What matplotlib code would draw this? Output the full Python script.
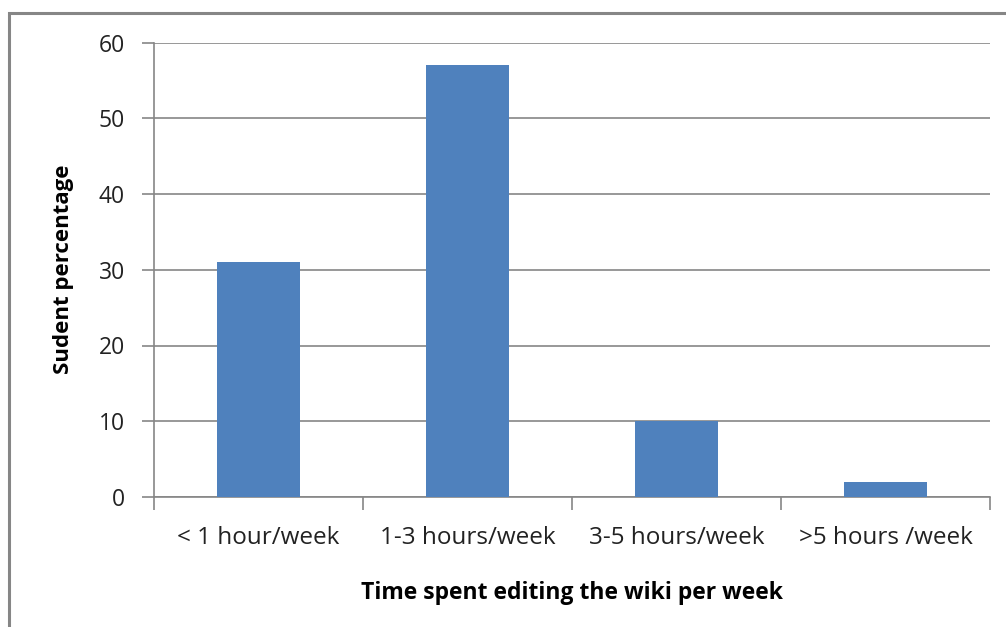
import matplotlib
matplotlib.use("Agg")
import matplotlib.pyplot as plt
from matplotlib.patches import Rectangle

categories = ["< 1 hour/week", "1-3 hours/week", "3-5 hours/week", ">5 hours /week"]
values = [31, 57, 10, 2]
yticks = [0, 10, 20, 30, 40, 50, 60]

W, H = 1006, 627
fig = plt.figure(figsize=(W / 100, H / 100), dpi=100)
plt.rcParams['font.family'] = ['Open Sans', 'DejaVu Sans']

# outer chart border
fig.patches.append(Rectangle((9 / W, -0.1), 1.2, 1 - 13 / H + 0.1, transform=fig.transFigure,
                             fill=False, edgecolor="#868686", linewidth=2.2))

left, right, top, bottom = 154, 990, 42.5, 497
ax = fig.add_axes([left / W, 1 - bottom / H, (right - left) / W, (bottom - top) / H])

x = list(range(len(categories)))
ax.bar(x, values, width=0.4, color="#4F81BD", zorder=3)
ax.set_xlim(-0.5, len(categories) - 0.5)
ax.set_ylim(0, 60)
ax.set_yticks(yticks)
ax.set_yticklabels([str(v) for v in yticks], fontsize=16.5, color="#222222")
ax.yaxis.grid(True, color="#868686", linewidth=1.2, zorder=0)

ax.set_xticks([i - 0.5 for i in range(len(categories) + 1)])
ax.set_xticklabels([])
ax.set_xticks(x, minor=True)
ax.set_xticklabels(categories, minor=True, fontsize=17.5, color="#222222")
ax.tick_params(axis="x", which="major", length=9, width=1.2, color="#868686", direction="out")
ax.tick_params(axis="x", which="minor", length=0, pad=21)
ax.tick_params(axis="y", length=9, width=1.2, color="#868686", direction="out", pad=12)

for s in ["top", "right"]:
    ax.spines[s].set_visible(False)
for s in ["left", "bottom"]:
    ax.spines[s].set_color("#868686")
    ax.spines[s].set_linewidth(1.2)

ax.set_ylabel("Sudent percentage", fontsize=16, fontweight="bold", labelpad=18)
ax.set_xlabel("Time spent editing the wiki per week", fontsize=16.5, fontweight="bold", labelpad=22)

fig.savefig("out.png", dpi=100)
